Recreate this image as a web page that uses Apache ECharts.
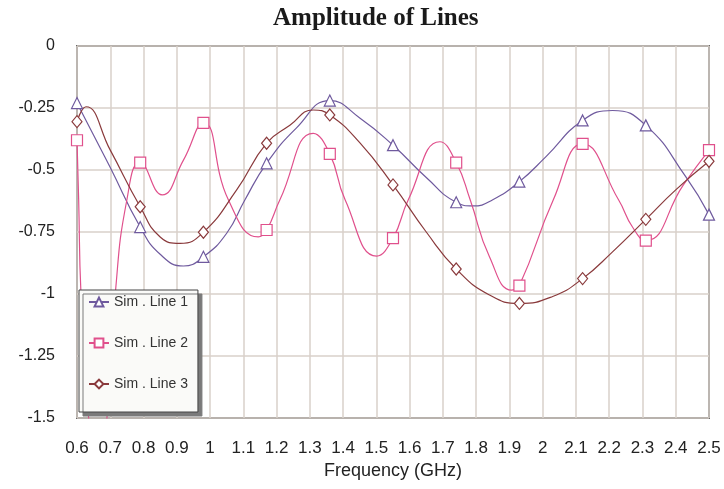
<!DOCTYPE html>
<html>
<head>
<meta charset="utf-8">
<title>Amplitude of Lines</title>
<script src="https://cdn.jsdelivr.net/npm/echarts@6/dist/echarts.min.js"></script>
<style>
  html, body { margin: 0; padding: 0; background: #ffffff; }
  #chart { width: 724px; height: 489px; }
</style>
</head>
<body>
<div id="chart"></div>
<script>
// Frequencies (GHz) at which each trace carries a marker symbol
const markerFreq = [0.6, 0.79, 0.98, 1.17, 1.36, 1.55, 1.74, 1.93, 2.12, 2.31, 2.5];

// Sim . Line 1
const freq1 = [0.6, 0.65, 0.7, 0.79, 0.85, 0.92, 0.98, 1.05, 1.105, 1.17, 1.26, 1.36, 1.45, 1.55, 1.65, 1.74, 1.79, 1.85, 1.93, 2.01, 2.12, 2.21, 2.31, 2.43, 2.5];
const amp1  = [-0.23, -0.36, -0.49, -0.73, -0.84, -0.887, -0.85, -0.755, -0.62, -0.473, -0.33, -0.22, -0.29, -0.40, -0.53, -0.63, -0.645, -0.62, -0.547, -0.446, -0.30, -0.26, -0.32, -0.527, -0.68];

// Sim . Line 2
const freq2 = [0.6, 0.605, 0.612, 0.635, 0.66, 0.69, 0.715, 0.75, 0.79, 0.856, 0.92, 0.98, 1.055, 1.145, 1.17, 1.21, 1.31, 1.36, 1.406, 1.501, 1.55, 1.596, 1.691, 1.74, 1.782, 1.84, 1.907, 1.93, 2.032, 2.12, 2.228, 2.27, 2.31, 2.423, 2.5];
const amp2  = [-0.38, -0.62, -1.0, -1.5, -1.8, -1.5, -1.0, -0.62, -0.47, -0.60, -0.46, -0.31, -0.62, -0.77, -0.742, -0.62, -0.352, -0.435, -0.62, -0.847, -0.775, -0.62, -0.386, -0.47, -0.62, -0.85, -0.984, -0.966, -0.62, -0.395, -0.62, -0.73, -0.785, -0.56, -0.42];

// Sim . Line 3
const freq3 = [0.6, 0.627, 0.7, 0.79, 0.85, 0.91, 0.98, 1.08, 1.17, 1.24, 1.31, 1.36, 1.45, 1.55, 1.65, 1.74, 1.84, 1.93, 2.03, 2.12, 2.21, 2.31, 2.4, 2.5];
const amp3  = [-0.305, -0.245, -0.42, -0.648, -0.77, -0.796, -0.751, -0.58, -0.392, -0.32, -0.258, -0.278, -0.39, -0.56, -0.75, -0.899, -1.004, -1.038, -1.01, -0.938, -0.83, -0.699, -0.58, -0.465];

const seriesNames = ['Sim . Line 1', 'Sim . Line 2', 'Sim . Line 3'];
const seriesColors = ['#6f5a9e', '#e0508c', '#8a3a3c'];
const seriesSymbols = ['triangle', 'rect', 'diamond'];

// Only the points on the marker grid get a visible symbol
function buildData(freq, amp) {
  return freq.map((f, i) => {
    const isMarker = markerFreq.some(m => Math.abs(m - f) < 1e-6);
    return isMarker ? { value: [f, amp[i]] } : { value: [f, amp[i]], symbol: 'none' };
  });
}

const traces = [[freq1, amp1], [freq2, amp2], [freq3, amp3]];

const chart = echarts.init(document.getElementById('chart'), null, { renderer: 'canvas' });

const option = {
  backgroundColor: '#ffffff',
  animation: false,
  title: {
    text: 'Amplitude of Lines',
    left: 273,
    top: 6,
    padding: 0,
    textStyle: {
      fontFamily: 'Liberation Serif',
      fontWeight: 'bold',
      fontSize: 25,
      color: '#1a1a1a'
    }
  },
  legend: {
    data: seriesNames,
    orient: 'vertical',
    left: 79,
    top: 290,
    itemWidth: 20,
    itemHeight: 11,
    itemGap: 27,
    padding: [5, 10, 21, 9],
    backgroundColor: '#fafaf8',
    borderColor: '#444444',
    borderWidth: 1,
    shadowColor: '#7a7a7a',
    shadowBlur: 0,
    shadowOffsetX: 4,
    shadowOffsetY: 4,
    textStyle: {
      fontFamily: 'Liberation Sans',
      fontSize: 14,
      color: '#333333'
    }
  },
  grid: {
    left: 77,
    right: 15,
    top: 46,
    bottom: 71,
    show: true,
    borderColor: '#5a5a5a',
    borderWidth: 1.8,
    backgroundColor: 'transparent'
  },
  xAxis: {
    type: 'value',
    min: 0.6,
    max: 2.5,
    interval: 0.1,
    name: 'Frequency (GHz)',
    nameLocation: 'middle',
    nameGap: 39,
    nameTextStyle: { fontFamily: 'Liberation Sans', fontSize: 18, color: '#222222' },
    axisLine: { show: false },
    axisTick: { show: false },
    axisLabel: {
      margin: 22,
      fontFamily: 'Liberation Sans',
      fontSize: 17,
      color: '#222222',
      formatter: v => String(+v.toFixed(2))
    },
    splitLine: { show: true, lineStyle: { color: '#d8d1ca', width: 1.5 } }
  },
  yAxis: {
    type: 'value',
    min: -1.5,
    max: 0,
    interval: 0.25,
    axisLine: { show: false },
    axisTick: { show: false },
    axisLabel: {
      margin: 22,
      fontFamily: 'Liberation Sans',
      fontSize: 16,
      color: '#222222',
      formatter: v => String(+v.toFixed(2))
    },
    splitLine: { show: true, lineStyle: { color: '#d8d1ca', width: 1.5 } }
  },
  series: traces.map((t, k) => ({
    name: seriesNames[k],
    type: 'line',
    data: buildData(t[0], t[1]),
    smooth: 0.5,
    clip: true,
    showSymbol: true,
    showAllSymbol: true,
    symbol: seriesSymbols[k],
    symbolSize: k === 2 ? [10, 12] : 11,
    lineStyle: { color: seriesColors[k], width: 1.2 },
    itemStyle: { color: '#ffffff', borderColor: seriesColors[k], borderWidth: 1.2 },
    emphasis: { disabled: true }
  }))
};

chart.setOption(option);
</script>
</body>
</html>
